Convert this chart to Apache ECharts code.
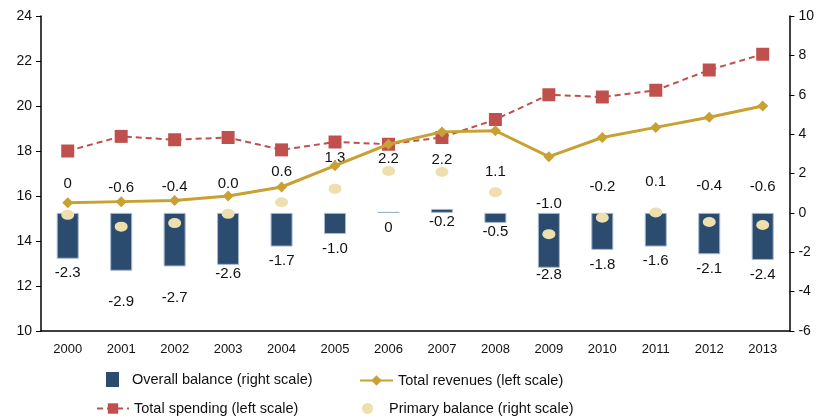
<!DOCTYPE html>
<html>
<head>
<meta charset="utf-8">
<script src="https://cdn.jsdelivr.net/npm/echarts@6/dist/echarts.min.js"></script>
<style>
	html, body { margin: 0; padding: 0; background: #fff; }
	#chart { width: 817px; height: 419px; }
</style>
</head>
<body>
<div id="chart"></div>
<script>
var years = ['2000', '2001', '2002', '2003', '2004', '2005', '2006', '2007', '2008', '2009', '2010', '2011', '2012', '2013']
// left scale, % of GDP
var totalRevenues = [15.7, 15.75, 15.8, 16.0, 16.4, 17.35, 18.3, 18.85, 18.9, 17.75, 18.6, 19.05, 19.5, 20.0]
var totalSpending = [18.0, 18.65, 18.5, 18.6, 18.05, 18.4, 18.3, 18.6, 19.4, 20.5, 20.4, 20.7, 21.6, 22.3]
// right scale
var overallBalance = [-2.33, -2.94, -2.72, -2.64, -1.71, -1.07, 0.05, 0.2, -0.51, -2.79, -1.88, -1.71, -2.1, -2.39]
var overallLabels = ['-2.3', '-2.9', '-2.7', '-2.6', '-1.7', '-1.0', '0', '-0.2', '-0.5', '-2.8', '-1.8', '-1.6', '-2.1', '-2.4']
var primaryBalance = [-0.1, -0.7, -0.52, -0.05, 0.54, 1.22, 2.13, 2.08, 1.05, -1.08, -0.25, 0.02, -0.46, -0.62]
var primaryLabels = ['0', '-0.6', '-0.4', '0.0', '0.6', '1.3', '2.2', '2.2', '1.1', '-1.0', '-0.2', '0.1', '-0.4', '-0.6']

var fontFamily = "'Liberation Sans', Arial, sans-serif"
var myChart = echarts.init(document.getElementById('chart'))

function legendBox(item, left, top, w, h, pad) {
	return {
		data: [item],
		left: left,
		top: top,
		itemWidth: w,
		itemHeight: h,
		padding: 0,
		selectedMode: false,
		textStyle: {
			fontFamily: fontFamily,
			fontSize: 14.5,
			color: '#111',
			padding: [0, 0, 0, pad || 0]
		}
	}
}

// the original labels were nudged by hand; follow that roughly
var primaryNudge = { 1: 26, 2: 24, 6: 0, 7: 0, 8: 8, 12: 24, 13: 26 }
var primaryData = primaryBalance.map(function (v, i) {
	var d = { value: v }
	if (primaryNudge[i] !== undefined) d.label = { distance: primaryNudge[i] }
	return d
})
var overallNudge = { 1: 24, 2: 24, 3: 2, 7: 1, 8: 1, 9: 0 }
var overallData = overallBalance.map(function (v, i) {
	var d = { value: v }
	if (overallNudge[i] !== undefined) d.label = { distance: overallNudge[i] }
	if (i === 6) d.itemStyle = { color: '#8FA6C0', borderWidth: 0 }
	return d
})

var option = {
	animation: false,
	textStyle: { fontFamily: fontFamily },
	grid: {
		left: 41,
		right: 25,
		top: 16,
		bottom: 88
	},
	legend: [
		legendBox({ name: 'Overall balance (right scale)', icon: 'rect', itemStyle: { borderWidth: 0 } }, 106, 372, 13, 15, 8),
		legendBox('Total revenues (left scale)', 359, 373, 33, 13),
		legendBox('Total spending (left scale)', 96, 401, 32, 13),
		legendBox('Primary balance (right scale)', 362, 401, 33, 11)
	],
	xAxis: {
		type: 'category',
		data: years,
		boundaryGap: true,
		axisLine: { onZero: false, lineStyle: { color: '#000', width: 1.5 } },
		axisTick: { length: 4, lineStyle: { color: '#000' } },
		axisLabel: { color: '#111', fontSize: 13, margin: 12 }
	},
	yAxis: [{
		type: 'value',
		min: 10,
		max: 24,
		interval: 2,
		splitLine: { show: false },
		axisLine: { show: true, lineStyle: { color: '#000', width: 1.5 } },
		axisTick: { show: true, length: 5, lineStyle: { color: '#000' } },
		axisLabel: { color: '#111', fontSize: 14, margin: 9 }
	}, {
		type: 'value',
		min: -6,
		max: 10,
		interval: 2,
		splitLine: { show: false },
		axisLine: { show: true, lineStyle: { color: '#000', width: 1.5 } },
		axisTick: { show: true, length: 5, lineStyle: { color: '#000' } },
		axisLabel: { color: '#111', fontSize: 14, margin: 9 }
	}],
	series: [{
		name: 'Overall balance (right scale)',
		type: 'bar',
		yAxisIndex: 1,
		data: overallData,
		barWidth: 22,
		itemStyle: { color: '#2B4B6F', borderColor: '#A4B8CE', borderWidth: 1 },
		label: {
			show: true,
			position: 'bottom',
			distance: 7,
			fontSize: 15,
			color: '#111',
			formatter: function (p) { return overallLabels[p.dataIndex] }
		},
		z: 1
	}, {
		name: 'Primary balance (right scale)',
		type: 'scatter',
		yAxisIndex: 1,
		data: primaryData,
		symbol: 'circle',
		symbolSize: [13, 10],
		itemStyle: { color: '#EEDFAE', opacity: 1 },
		label: {
			show: true,
			position: 'top',
			distance: 18,
			fontSize: 15,
			color: '#111',
			formatter: function (p) { return primaryLabels[p.dataIndex] }
		},
		z: 2
	}, {
		name: 'Total spending (left scale)',
		type: 'line',
		data: totalSpending,
		symbol: 'rect',
		symbolSize: 13,
		lineStyle: { color: '#C0504D', width: 2, type: [6, 4] },
		itemStyle: { color: '#C0504D' },
		z: 3
	}, {
		name: 'Total revenues (left scale)',
		type: 'line',
		data: totalRevenues,
		symbol: 'diamond',
		symbolSize: 11,
		lineStyle: { color: '#C9A032', width: 3 },
		itemStyle: { color: '#C9A032' },
		z: 4
	}]
}
myChart.setOption(option)
</script>
</body>
</html>
